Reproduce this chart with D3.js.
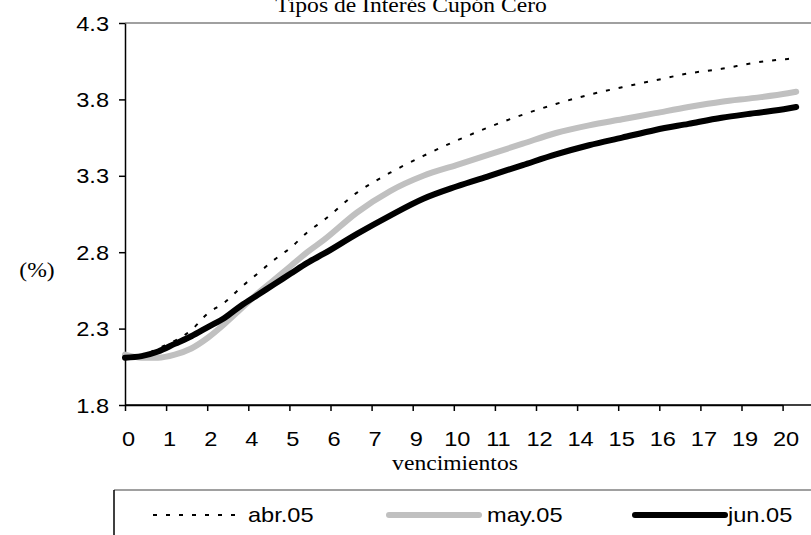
<!DOCTYPE html>
<html>
<head>
<meta charset="utf-8">
<script src="https://cdn.jsdelivr.net/npm/d3@7"></script>
<style>
  body { margin: 0; background: #fff; }
  svg { display: block; }
</style>
</head>
<body>
<div id="chart"></div>
<script>
// maturities in years, and the three zero-coupon curves (%)
const maturities = [0, 0.5, 1, 1.5, 2, 2.5, 3, 3.5, 4, 4.5, 5, 5.5, 6, 7, 8, 9, 10, 11, 12, 13, 14, 15, 16, 17, 18, 19, 20, 20.25];
const abr05 = [2.10, 2.12, 2.17, 2.22, 2.29, 2.40, 2.47, 2.57, 2.66, 2.75, 2.83, 2.93, 3.01, 3.19, 3.32, 3.43, 3.53, 3.62, 3.70, 3.77, 3.83, 3.88, 3.925, 3.97, 4.00, 4.04, 4.065, 4.07];
const may05 = [2.13, 2.11, 2.11, 2.13, 2.17, 2.24, 2.33, 2.43, 2.53, 2.62, 2.71, 2.80, 2.88, 3.06, 3.20, 3.30, 3.37, 3.44, 3.51, 3.58, 3.63, 3.67, 3.71, 3.75, 3.785, 3.81, 3.84, 3.85];
const jun05 = [2.11, 2.12, 2.15, 2.20, 2.25, 2.31, 2.37, 2.45, 2.52, 2.59, 2.66, 2.73, 2.79, 2.92, 3.04, 3.15, 3.23, 3.30, 3.37, 3.44, 3.50, 3.55, 3.60, 3.64, 3.68, 3.71, 3.74, 3.75];
const seriesNames = ["abr.05", "may.05", "jun.05"];

const xTickLabels = ["0", "1", "2", "4", "5", "6", "7", "9", "10", "11", "12", "14", "15", "16", "17", "19", "20"];
const xTickStep = 1.24; // years between category labels
const yTicks = [1.8, 2.3, 2.8, 3.3, 3.8, 4.3];

const width = 811, height = 535;
const sans = "'Liberation Sans', Arial, sans-serif";
const serif = "'Liberation Serif', 'Times New Roman', serif";
const stretch = 1.18;

let svg = d3.select("#chart").append("svg")
  .attr("width", width)
  .attr("height", height);

let x = d3.scaleLinear()
  .domain([0, (xTickLabels.length - 1) * xTickStep])
  .range([125, 782.6]);

let y = d3.scaleLinear()
  .domain([1.8, 4.3])
  .range([405, 23]);

// stretched text helper (original chart text is wide)
function label(px, py, str, family, size, anchor) {
  svg.append("g")
    .attr("transform", `translate(${px},${py}) scale(${stretch},1)`)
    .append("text")
    .attr("text-anchor", anchor || "middle")
    .attr("font-family", family)
    .attr("font-size", size)
    .attr("fill", "#000")
    .text(str);
}

// plot area top border
svg.append("line")
  .attr("x1", x.range()[0]).attr("x2", width)
  .attr("y1", y(4.3)).attr("y2", y(4.3))
  .attr("stroke", "#808080")
  .attr("stroke-width", 1.5);

// axes
let yAxis = svg.append("g")
  .attr("transform", `translate(${x.range()[0]},0)`)
  .call(d3.axisLeft(y).tickValues(yTicks).tickSize(6).tickSizeOuter(0).tickFormat(d3.format(".1f")));

let xAxis = svg.append("g")
  .attr("transform", `translate(0,${y(1.8)})`)
  .call(d3.axisBottom(x)
    .tickValues(xTickLabels.map((d, i) => i * xTickStep))
    .tickSize(6).tickSizeOuter(0)
    .tickFormat((d, i) => xTickLabels[i]));

// extend x axis line across plot area
svg.append("line")
  .attr("x1", x.range()[0]).attr("x2", width)
  .attr("y1", y(1.8)).attr("y2", y(1.8))
  .attr("stroke", "#000").attr("stroke-width", 1.5);

[xAxis, yAxis].forEach(a => {
  a.selectAll("path, line").attr("stroke", "#000").attr("stroke-width", 1.5);
  a.selectAll("text")
    .attr("font-family", sans)
    .attr("font-size", 20)
    .attr("fill", "#000");
});
xAxis.selectAll("text").attr("dy", 0).attr("y", 41)
  .attr("transform", `translate(3,0) scale(${stretch},1)`);
yAxis.selectAll("text").attr("x", -16 / stretch).attr("dy", "0.35em")
  .attr("transform", `scale(${stretch},1)`);

// lines
let line = d3.line()
  .x((d, i) => x(maturities[i]))
  .y(d => y(d))
  .curve(d3.curveMonotoneX);

let styles = [
  { data: abr05, stroke: "#000", width: 2, dash: "4,9", cap: "butt" },
  { data: may05, stroke: "#c0c0c0", width: 6, dash: null, cap: "round" },
  { data: jun05, stroke: "#000", width: 6, dash: null, cap: "round" }
];

styles.forEach(s => {
  svg.append("path")
    .datum(s.data)
    .attr("d", line)
    .attr("fill", "none")
    .attr("stroke", s.stroke)
    .attr("stroke-width", s.width)
    .attr("stroke-linecap", s.cap)
    .attr("stroke-linejoin", "round")
    .attr("stroke-dasharray", s.dash);
});

// titles
label(411, 12, "Tipos de Interés Cupón Cero", serif, 20);
label(455, 470, "vencimientos", serif, 20);
label(37, 277, "(%)", serif, 20);

// legend
svg.append("line")
  .attr("x1", 114).attr("x2", width).attr("y1", 490).attr("y2", 490)
  .attr("stroke", "#808080").attr("stroke-width", 1.5);
svg.append("line")
  .attr("x1", 114).attr("x2", 114).attr("y1", 490).attr("y2", height)
  .attr("stroke", "#000").attr("stroke-width", 1.5);

let legendItems = [
  { x1: 153, x2: 237, tx: 248 },
  { x1: 389, x2: 479, tx: 487 },
  { x1: 635, x2: 725, tx: 728 }
];

legendItems.forEach((d, i) => {
  let s = styles[i];
  svg.append("line")
    .attr("x1", d.x1).attr("x2", d.x2)
    .attr("y1", 515).attr("y2", 515)
    .attr("stroke", s.stroke)
    .attr("stroke-width", s.width)
    .attr("stroke-linecap", s.cap)
    .attr("stroke-dasharray", s.dash);
  label(d.tx, 522, seriesNames[i], sans, 20, "start");
});
</script>
</body>
</html>
